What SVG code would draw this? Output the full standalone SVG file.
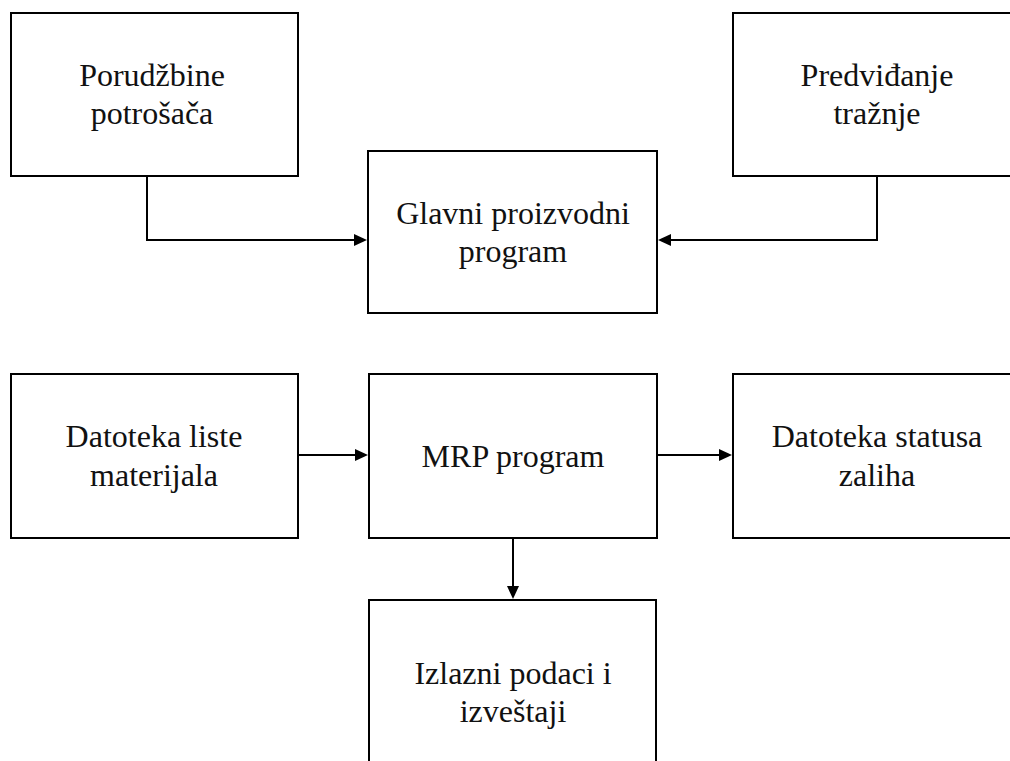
<svg xmlns="http://www.w3.org/2000/svg" width="1010" height="761" viewBox="0 0 1010 761">
  <style>
    .box { fill: #ffffff; stroke: #000000; stroke-width: 2; }
    .lbl { font-family: "Liberation Serif", "Times New Roman", serif; font-size: 32px; fill: #111111; text-anchor: middle; }
    .wire { fill: none; stroke: #000000; stroke-width: 2; }
  </style>
  <defs>
    <marker id="arrow" viewBox="0 0 13 12" refX="7" refY="6" markerWidth="13" markerHeight="12" markerUnits="userSpaceOnUse" orient="auto">
      <path d="M0,0 L13,6 L0,12 Z" fill="#000000"/>
    </marker>
  </defs>

  <rect width="1010" height="761" fill="#ffffff"/>

  <!-- connectors -->
  <g id="connectors">
    <path class="wire" d="M147,176 V240 H361" marker-end="url(#arrow)"/>
    <path class="wire" d="M877,176 V240 H664" marker-end="url(#arrow)"/>
    <path class="wire" d="M298,455 H362" marker-end="url(#arrow)"/>
    <path class="wire" d="M657,455 H726" marker-end="url(#arrow)"/>
    <path class="wire" d="M513,538 V593" marker-end="url(#arrow)"/>
  </g>

  <!-- nodes -->
  <g id="porudzbine">
    <rect class="box" x="11" y="13" width="287" height="163"/>
    <text class="lbl" x="152" y="86">Porudžbine</text>
    <text class="lbl" x="152" y="124">potrošača</text>
  </g>

  <g id="predvidjanje">
    <rect class="box" x="733" y="13" width="290" height="163"/>
    <text class="lbl" x="877" y="86">Predviđanje</text>
    <text class="lbl" x="877" y="124">tražnje</text>
  </g>

  <g id="glavni-program">
    <rect class="box" x="368" y="151" width="289" height="162"/>
    <text class="lbl" x="513" y="224">Glavni proizvodni</text>
    <text class="lbl" x="513" y="262">program</text>
  </g>

  <g id="lista-materijala">
    <rect class="box" x="11" y="374" width="287" height="164"/>
    <text class="lbl" x="154" y="447">Datoteka liste</text>
    <text class="lbl" x="154" y="486">materijala</text>
  </g>

  <g id="mrp-program">
    <rect class="box" x="369" y="374" width="288" height="164"/>
    <text class="lbl" x="513" y="467">MRP program</text>
  </g>

  <g id="status-zaliha">
    <rect class="box" x="733" y="374" width="290" height="164"/>
    <text class="lbl" x="877" y="447">Datoteka statusa</text>
    <text class="lbl" x="877" y="486">zaliha</text>
  </g>

  <g id="izlazni-podaci">
    <rect class="box" x="369" y="600" width="287" height="200"/>
    <text class="lbl" x="513" y="684">Izlazni podaci i</text>
    <text class="lbl" x="513" y="722">izveštaji</text>
  </g>
</svg>
